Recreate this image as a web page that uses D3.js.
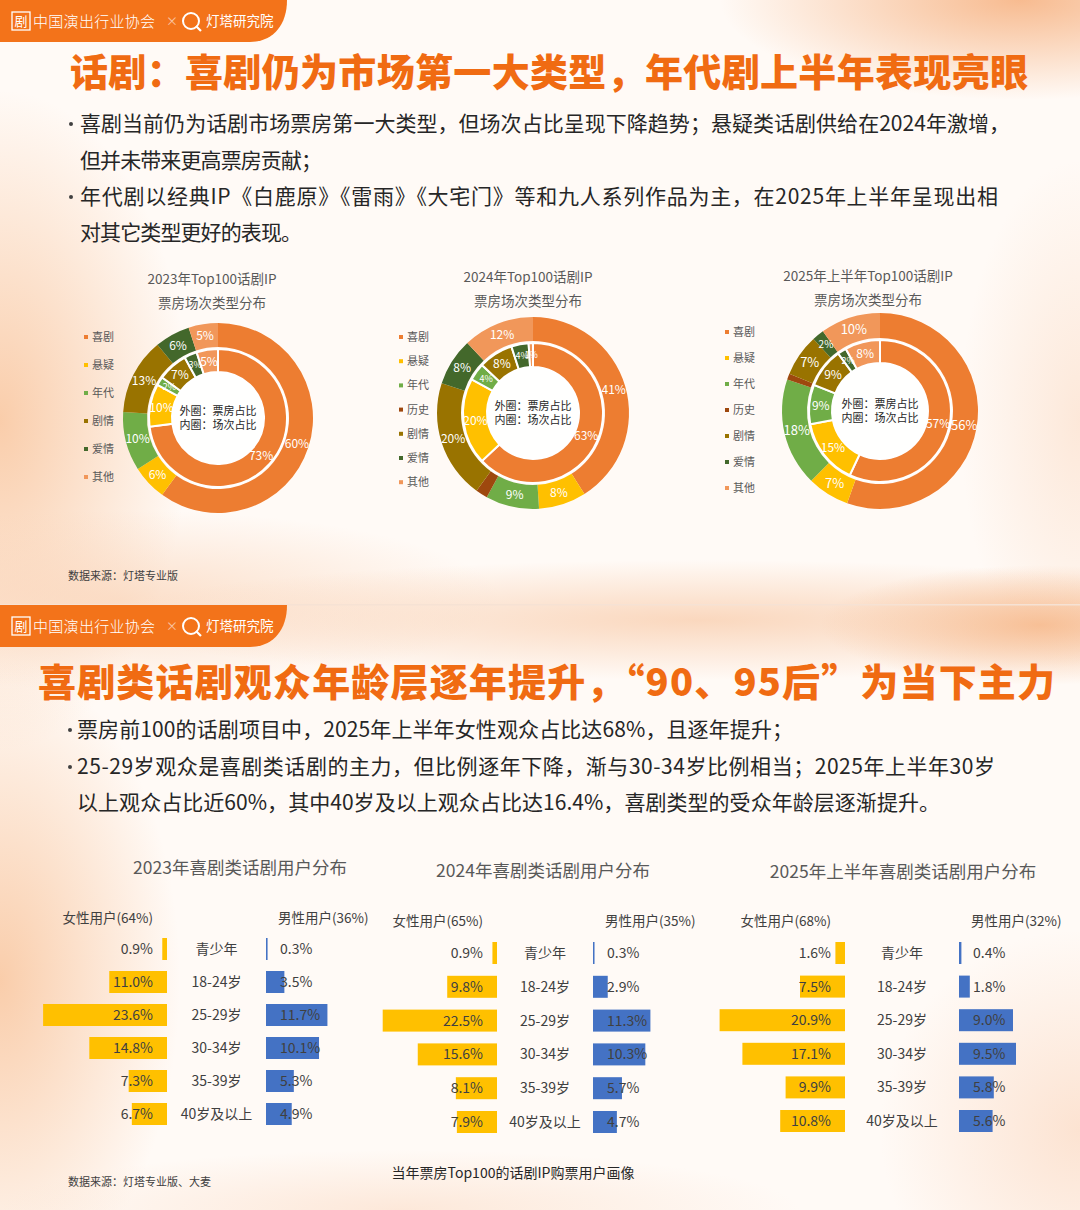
<!DOCTYPE html>
<html>
<head>
<meta charset="utf-8">
<script src="https://cdn.jsdelivr.net/npm/d3@7"></script>
<style>
body { margin: 0; background: #fff; }
svg { display: block; }
text { font-family: "Noto Sans CJK SC", "Noto Sans CJK JP", "Noto Sans", sans-serif; }
</style>
</head>
<body>
<div id="chart"></div>
<script>
var W = 1080, H = 1210;

// ---- donut data (外圈: 票房占比, 内圈: 场次占比)
var genres2023 = ["喜剧", "悬疑", "年代", "剧情", "爱情", "其他"];
var boxOffice2023 = [60, 6, 10, 13, 6, 5];
var shows2023 = [73, 10, 2, 7, 3, 5];

var genres2024 = ["喜剧", "悬疑", "年代", "历史", "剧情", "爱情", "其他"];
var boxOffice2024 = [41, 8, 9, 2, 20, 8, 12];
var shows2024 = [63, 20, 4, 0, 8, 4, 1];

var genres2025 = ["喜剧", "悬疑", "年代", "历史", "剧情", "爱情", "其他"];
var boxOffice2025 = [56, 7, 18, 1, 7, 2, 10];
var shows2025 = [57, 15, 9, 0, 9, 2, 8];

var donutTitles = [
  ["2023年Top100话剧IP", "票房场次类型分布"],
  ["2024年Top100话剧IP", "票房场次类型分布"],
  ["2025年上半年Top100话剧IP", "票房场次类型分布"]
];
var noLabel = ["历史"];

// ---- age / gender data
var ageGroups = ["青少年", "18-24岁", "25-29岁", "30-34岁", "35-39岁", "40岁及以上"];
var female2023 = [0.9, 11.0, 23.6, 14.8, 7.3, 6.7];
var male2023 = [0.3, 3.5, 11.7, 10.1, 5.3, 4.9];
var female2024 = [0.9, 9.8, 22.5, 15.6, 8.1, 7.9];
var male2024 = [0.3, 2.9, 11.3, 10.3, 5.7, 4.7];
var female2025 = [1.6, 7.5, 20.9, 17.1, 9.9, 10.8];
var male2025 = [0.4, 1.8, 9.0, 9.5, 5.8, 5.6];
var femaleShare = ["64%", "65%", "68%"];
var maleShare = ["36%", "35%", "32%"];
var barTitles = ["2023年喜剧类话剧用户分布", "2024年喜剧类话剧用户分布", "2025年上半年喜剧类话剧用户分布"];

// ---- texts
var title1 = "话剧：喜剧仍为市场第一大类型，年代剧上半年表现亮眼";
var bullets1 = [
  [true, "喜剧当前仍为话剧市场票房第一大类型，但场次占比呈现下降趋势；悬疑类话剧供给在2024年激增，", 930],
  [false, "但并未带来更高票房贡献；", 242],
  [true, "年代剧以经典IP《白鹿原》《雷雨》《大宅门》等和九人系列作品为主，在2025年上半年呈现出相", 918],
  [false, "对其它类型更好的表现。", 222]
];
var title2 = "喜剧类话剧观众年龄层逐年提升，“90、95后”为当下主力";
var bullets2 = [
  [true, "票房前100的话剧项目中，2025年上半年女性观众占比达68%，且逐年提升；", 716],
  [true, "25-29岁观众是喜剧类话剧的主力，但比例逐年下降，渐与30-34岁比例相当；2025年上半年30岁", 918],
  [false, "以上观众占比近60%，其中40岁及以上观众占比达16.4%，喜剧类型的受众年龄层逐渐提升。", 863]
];

var colors = {
  "喜剧": "#ED7D31", "悬疑": "#FFC000", "年代": "#70AD47", "历史": "#9E480E",
  "剧情": "#997300", "爱情": "#43682B", "其他": "#F1975A"
};

var svg = d3.select("#chart").append("svg")
    .attr("width", W)
    .attr("height", H);

var defs = svg.append("defs");

// background
svg.append("rect").attr("width", W).attr("height", H).attr("fill", "#FFFAF6");

var gid = 0;
function glow(cx, cy, rx, ry, color, op) {
  gid++;
  var g = defs.append("radialGradient").attr("id", "glow" + gid);
  g.append("stop").attr("offset", "0%").attr("stop-color", color).attr("stop-opacity", op);
  g.append("stop").attr("offset", "55%").attr("stop-color", color).attr("stop-opacity", op * 0.45);
  g.append("stop").attr("offset", "100%").attr("stop-color", color).attr("stop-opacity", 0);
  svg.append("ellipse")
      .attr("cx", cx).attr("cy", cy).attr("rx", rx).attr("ry", ry)
      .attr("fill", "url(#glow" + gid + ")");
}

// slide 1 glows
glow(0, 420, 190, 330, "#F9C8A2", 0.9);
glow(120, 600, 380, 90, "#FAD3B6", 0.7);
glow(1020, 0, 300, 100, "#F6B07E", 0.85);
glow(1080, 420, 120, 260, "#FBDCC6", 0.6);
// slide 2 glows
glow(700, 620, 600, 60, "#F9CFB0", 0.8);
glow(1040, 625, 220, 60, "#F6B585", 0.8);
glow(0, 980, 180, 320, "#F9C8A2", 0.9);
glow(1080, 1130, 200, 200, "#FBD9C2", 0.7);
glow(400, 1210, 400, 60, "#FBDCC6", 0.6);

svg.append("rect").attr("x", 0).attr("y", 604).attr("width", W).attr("height", 1.5)
    .attr("fill", "#F6E2D4");

// header tab
function drawTab(y0) {
  var g = svg.append("g").attr("transform", "translate(0," + y0 + ")");
  g.append("path")
      .attr("d", "M0,0 H287 C287,26 272,42 250,42 H0 Z")
      .attr("fill", "#F3731A");
  g.append("rect").attr("x", 12).attr("y", 12).attr("width", 18).attr("height", 18)
      .attr("fill", "none").attr("stroke", "#fff").attr("stroke-width", 1.3);
  g.append("text").attr("x", 21).attr("y", 26).attr("text-anchor", "middle")
      .attr("font-size", 13).attr("fill", "#fff").text("剧");
  g.append("text").attr("x", 33).attr("y", 27)
      .attr("font-size", 15).attr("font-weight", 300).attr("fill", "#fff")
      .attr("letter-spacing", 0.3)
      .text("中国演出行业协会");
  g.append("text").attr("x", 166).attr("y", 26)
      .attr("font-size", 12).attr("fill", "#fff").attr("opacity", 0.6).text("×");
  g.append("circle").attr("cx", 191).attr("cy", 21).attr("r", 8)
      .attr("fill", "none").attr("stroke", "#fff").attr("stroke-width", 2);
  g.append("line").attr("x1", 196).attr("y1", 26).attr("x2", 201).attr("y2", 31)
      .attr("stroke", "#fff").attr("stroke-width", 2.2);
  g.append("text").attr("x", 206).attr("y", 26)
      .attr("font-size", 13.5).attr("fill", "#fff").text("灯塔研究院");
}
drawTab(0);
drawTab(605);

// titles and bullets
function drawTitle(txt, x, y, len) {
  svg.append("text").attr("x", x).attr("y", y)
      .attr("font-size", 38).attr("font-weight", 900).attr("fill", "#F06B12")
      .attr("textLength", len).attr("lengthAdjust", "spacing")
      .text(txt);
}
drawTitle(title1, 70, 86, 958);
drawTitle(title2, 38, 696, 1017);

function drawBullets(lines, dotX, textX, ys, size) {
  lines.forEach(function(l, i) {
    if (l[0]) {
      svg.append("circle").attr("cx", dotX).attr("cy", ys[i] + 1).attr("r", 2)
          .attr("fill", "#404040");
    }
    svg.append("text").attr("x", textX).attr("y", ys[i] + 8)
        .attr("font-size", size).attr("fill", "#262626")
        .attr("textLength", l[2]).attr("lengthAdjust", "spacing")
        .text(l[1]);
  });
}
drawBullets(bullets1, 71, 80, [123, 160, 196, 232], 21);
drawBullets(bullets2, 70, 77, [729, 766, 802], 21);

// ---- donuts
var donuts = [
  { cats: genres2023, outer: boxOffice2023, inner: shows2023,
    cx: 218, cy: 418, r: [46, 69, 71, 95],
    lx: 86, ly: 337, ls: 28, tx: 212, ty: 279 },
  { cats: genres2024, outer: boxOffice2024, inner: shows2024,
    cx: 533, cy: 413, r: [46, 70, 72, 96],
    lx: 401, ly: 337, ls: 24.2, tx: 528, ty: 277 },
  { cats: genres2025, outer: boxOffice2025, inner: shows2025,
    cx: 880, cy: 411, r: [48, 71, 73, 98],
    lx: 727, ly: 332, ls: 26, tx: 868, ty: 276 }
];

var pie = d3.pie().sort(null).value(function(d) { return d.v; });

donuts.forEach(function(dn, di) {
  var g = svg.append("g").attr("transform", "translate(" + dn.cx + "," + dn.cy + ")");

  var outerData = dn.cats.map(function(c, i) { return { c: c, v: dn.outer[i] }; });
  var innerData = dn.cats.map(function(c, i) { return { c: c, v: dn.inner[i] }; });

  var arcOuter = d3.arc().innerRadius(dn.r[2]).outerRadius(dn.r[3]);
  var arcInner = d3.arc().innerRadius(dn.r[0]).outerRadius(dn.r[1]);

  g.selectAll(".outer").data(pie(outerData)).enter().append("path")
      .attr("class", "outer")
      .attr("d", arcOuter)
      .attr("fill", function(d) { return colors[d.data.c]; });

  g.selectAll(".inner").data(pie(innerData)).enter().append("path")
      .attr("class", "inner")
      .attr("d", arcInner)
      .attr("fill", function(d) { return colors[d.data.c]; })
      .attr("stroke", "#fff")
      .attr("stroke-width", function(d) { return d.data.v > 0 ? 2 : 0; });

  g.append("circle").attr("r", dn.r[0]).attr("fill", "#fff").attr("opacity", 0.9);

  function labels(data, arc, size) {
    g.selectAll(null).data(pie(data).filter(function(d) {
        return d.data.v > 0 && noLabel.indexOf(d.data.c) < 0;
      }))
      .enter().append("text")
        .attr("transform", function(d) { return "translate(" + arc.centroid(d) + ")"; })
        .attr("text-anchor", "middle")
        .attr("dy", "0.36em")
        .attr("font-size", function(d) { return d.data.v < 5 ? size - 3 : size; })
        .attr("fill", "#fff")
        .text(function(d) { return d.data.v + "%"; });
  }
  labels(outerData, arcOuter, di == 2 ? 13 : 12);
  labels(innerData, arcInner, 12);

  g.append("text").attr("y", -3).attr("text-anchor", "middle")
      .attr("font-size", 11).attr("fill", "#262626").text("外圈：票房占比");
  g.append("text").attr("y", 11).attr("text-anchor", "middle")
      .attr("font-size", 11).attr("fill", "#262626").text("内圈：场次占比");

  // title
  svg.append("text").attr("x", dn.tx).attr("y", dn.ty + 5).attr("text-anchor", "middle")
      .attr("font-size", 13.5).attr("fill", "#595959").text(donutTitles[di][0]);
  svg.append("text").attr("x", dn.tx).attr("y", dn.ty + 29).attr("text-anchor", "middle")
      .attr("font-size", 13.5).attr("fill", "#595959").text(donutTitles[di][1]);

  // legend
  var ly = d3.scalePoint().domain(dn.cats).range([dn.ly, dn.ly + dn.ls * (dn.cats.length - 1)]);
  var lg = svg.append("g");
  lg.selectAll("rect").data(dn.cats).enter().append("rect")
      .attr("x", dn.lx - 2).attr("y", function(c) { return ly(c) - 2; })
      .attr("width", 4).attr("height", 4)
      .attr("fill", function(c) { return colors[c]; });
  lg.selectAll("text").data(dn.cats).enter().append("text")
      .attr("x", dn.lx + 6).attr("y", function(c) { return ly(c) + 4; })
      .attr("font-size", 11).attr("fill", "#595959")
      .text(function(c) { return c; });
});

svg.append("text").attr("x", 68).attr("y", 580)
    .attr("font-size", 11).attr("fill", "#404040").text("数据来源：灯塔专业版");

// ---- butterfly bars
var panels = [
  { female: female2023, male: male2023, fr: 167, ml: 266, k: 5.25, y0: 949, y1: 1114, ty: 868, tx: 240, hy: 918 },
  { female: female2024, male: male2024, fr: 497, ml: 593, k: 5.08, y0: 953, y1: 1122, ty: 871, tx: 543, hy: 921 },
  { female: female2025, male: male2025, fr: 845, ml: 959, k: 6.0, y0: 953, y1: 1121, ty: 872, tx: 903, hy: 921 }
];

panels.forEach(function(p, pi) {
  var g = svg.append("g");
  var y = d3.scalePoint().domain(ageGroups).range([p.y0, p.y1]);
  var x = d3.scaleLinear().domain([0, 25]).range([0, 25 * p.k]);
  var bh = 22;

  g.append("text").attr("x", p.tx).attr("y", p.ty + 6).attr("text-anchor", "middle")
      .attr("font-size", 17.5).attr("fill", "#595959").text(barTitles[pi]);

  g.append("text").attr("x", p.fr - 14).attr("y", p.hy + 5).attr("text-anchor", "end")
      .attr("font-size", 13.5).attr("fill", "#404040").text("女性用户(" + femaleShare[pi] + ")");
  g.append("text").attr("x", p.ml + 12).attr("y", p.hy + 5)
      .attr("font-size", 13.5).attr("fill", "#404040").text("男性用户(" + maleShare[pi] + ")");

  g.selectAll(".f").data(p.female).enter().append("rect")
      .attr("class", "f")
      .attr("x", function(d) { return p.fr - x(d); })
      .attr("y", function(d, i) { return y(ageGroups[i]) - bh / 2; })
      .attr("width", function(d) { return x(d); })
      .attr("height", bh)
      .attr("fill", "#FFC000");

  g.selectAll(".m").data(p.male).enter().append("rect")
      .attr("class", "m")
      .attr("x", p.ml)
      .attr("y", function(d, i) { return y(ageGroups[i]) - bh / 2; })
      .attr("width", function(d) { return Math.max(x(d), 1.5); })
      .attr("height", bh)
      .attr("fill", "#4472C4");

  g.selectAll(".fl").data(p.female).enter().append("text")
      .attr("x", p.fr - 14)
      .attr("y", function(d, i) { return y(ageGroups[i]) + 5; })
      .attr("text-anchor", "end")
      .attr("font-size", 14).attr("fill", "#404040")
      .text(function(d) { return d.toFixed(1) + "%"; });

  g.selectAll(".ml").data(p.male).enter().append("text")
      .attr("x", p.ml + 14)
      .attr("y", function(d, i) { return y(ageGroups[i]) + 5; })
      .attr("font-size", 14).attr("fill", "#404040")
      .text(function(d) { return d.toFixed(1) + "%"; });

  g.selectAll(".cat").data(ageGroups).enter().append("text")
      .attr("x", (p.fr + p.ml) / 2)
      .attr("y", function(c) { return y(c) + 5; })
      .attr("text-anchor", "middle")
      .attr("font-size", 14).attr("fill", "#404040")
      .text(function(c) { return c; });
});

svg.append("text").attr("x", 68).attr("y", 1186)
    .attr("font-size", 11).attr("fill", "#404040").text("数据来源：灯塔专业版、大麦");
svg.append("text").attr("x", 513).attr("y", 1178).attr("text-anchor", "middle")
    .attr("font-size", 14).attr("fill", "#262626").text("当年票房Top100的话剧IP购票用户画像");
</script>
</body>
</html>
